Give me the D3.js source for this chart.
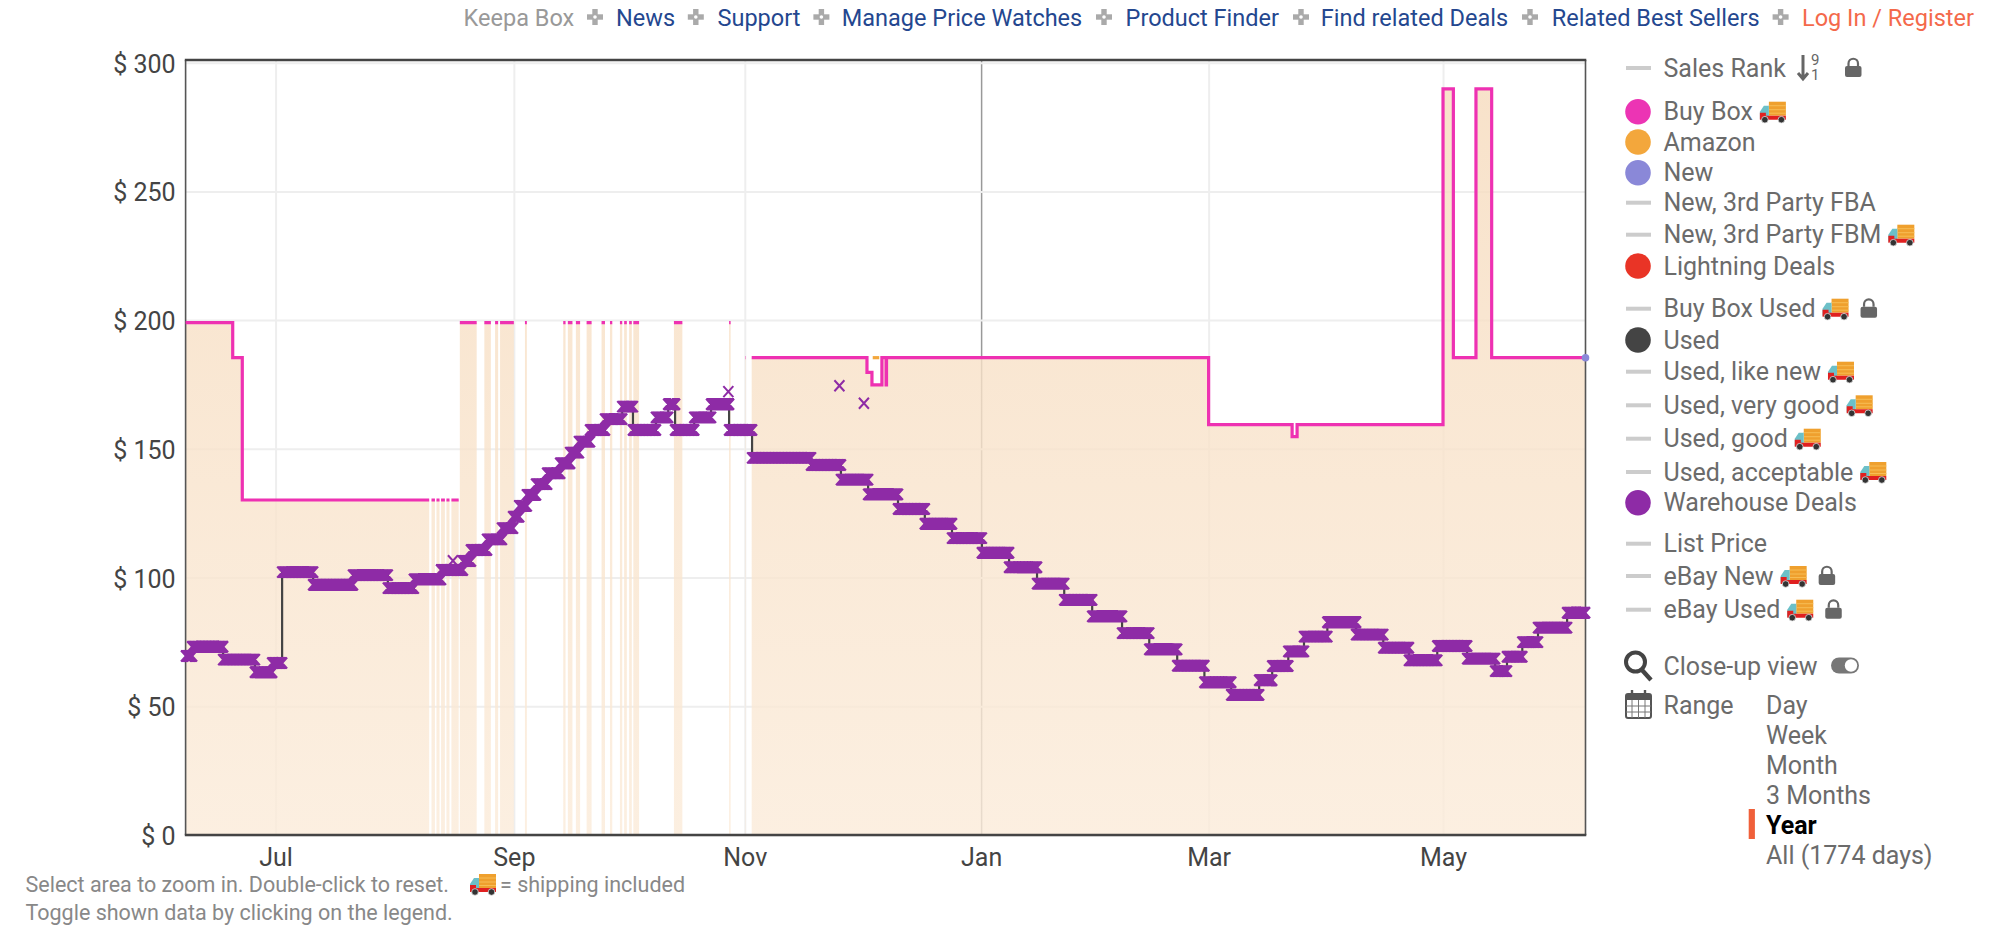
<!DOCTYPE html>
<html><head><meta charset="utf-8">
<style>html,body{margin:0;padding:0;background:#fff}svg{display:block}text{font-family:Roboto,sans-serif}</style>
<script src="https://cdn.jsdelivr.net/npm/d3@7/dist/d3.min.js"></script>
</head><body><svg id="c" width="1999" height="925"></svg>
<script>
// ---- data (x = days since chart start, y = US dollars) ----
const priceTicks=[0,50,100,150,200,250,300];
const monthTickDays=[23.5,85.7,146.0,207.7,267.1,328.3];
const monthTickLabels=["Jul","Sep","Nov","Jan","Mar","May"];
const yearBoundaryDay=207.7;
const buyBoxFrom=[0,12.3,14.8,64.2,65.5,66.7,68.1,69.4,71.6,78.0,80.8,82.1,88.6,98.6,99.8,101.9,104.7,108.6,110.8,113.4,114.5,115.8,116.9,127.5,141.9,146.1,147.8,177.9,179.2,181.8,182.9,183.0,267.1,288.9,290.2,328.3,331.0,336.9,341.0];
const buyBoxTo=[12.3,14.8,63.6,65.1,66.3,67.7,68.9,71.3,76.0,79.7,81.6,85.7,89.1,99.2,101.0,103.0,106.0,109.5,111.4,114.0,115.2,116.5,118.4,129.7,142.3,146.2,177.9,179.2,181.8,182.9,183.0,267.1,288.9,290.2,328.3,331.0,336.9,341.0,365.5];
const buyBoxPrice=[199,185.4,130.1,130.1,130.1,130.1,130.1,130.1,199,199,199,199,199,199,199,199,199,199,199,199,199,199,199,199,199,185.4,185.4,179.7,174.8,185.4,174.8,185.4,159.4,154.7,159.4,289.8,185.4,289.8,185.4];
const amazonFrom=[179.4],amazonTo=[181.1],amazonPrice=[185.4];
const newDay=[365.5],newPrice=[185.4];
const warehouseDays=[0.1,1.7,9.8,18.1,22.6,25.2,33.3,43.7,52.8,59.6,66.7,72.4,74.5,78.7,82.6,85.5,87.1,89.1,91.5,94.4,97.8,100.4,102.7,105.6,109.5,114.0,116.8,122.8,126.0,127.8,132.8,137.2,141.9,147.9,163.3,171.1,178.2,186.0,193.0,200.1,207.9,215.0,222.3,229.4,236.7,244.5,251.6,258.9,266.0,273.0,280.3,283.7,287.9,292.0,298.1,305.6,312.7,319.4,326.8,334.6,341.9,345.0,349.0,353.1,360.7];
const warehousePrices=[69.5,73.1,68.1,63.2,66.8,102.1,97.2,100.9,95.9,99.3,102.9,106.4,110.7,114.8,119.2,123.6,127.8,132.1,136.3,140.5,144.4,148.5,152.8,157.3,161.5,166.4,157.3,162.2,167.3,157.3,162.2,167.3,157.3,146.5,143.7,138.0,132.3,126.6,120.9,115.3,109.6,104.0,97.6,91.3,84.9,78.4,72.1,65.7,59.3,54.4,60.1,65.6,71.3,77.0,82.6,77.8,72.7,67.8,73.4,68.5,63.6,69.2,74.9,80.5,86.3];
const warehouseLastDay=365.4;
const warehouseSingleDays=[69.8,141.7,170.7,177.1];
const warehouseSinglePrices=[106.5,172.2,174.5,167.7];
const headerLabels=["Keepa Box","News","Support","Manage Price Watches","Product Finder","Find related Deals","Related Best Sellers","Log In / Register"];
const legendLabels=["Sales Rank","Buy Box","Amazon","New","New, 3rd Party FBA","New, 3rd Party FBM","Lightning Deals","Buy Box Used","Used","Used, like new","Used, very good","Used, good","Used, acceptable","Warehouse Deals","List Price","eBay New","eBay Used"];
const legendColors=[null,"#ec34b4","#f3a73c","#8a88d8",null,null,"#e93426",null,"#444444",null,null,null,null,"#8e2ba6",null,null,null];
const legendTruck=[0,1,0,0,0,1,0,1,0,1,1,1,1,0,0,1,1];
const legendLock=[1,0,0,0,0,0,0,1,0,0,0,0,0,0,0,1,1];
const rangeLabels=["Day","Week","Month","3 Months","Year","All (1774 days)"];
// ---- layout ----
const L=185.6,R=1585.5,T=60,B=835;
const headerX=[463.6,616,717.5,841.8,1125.6,1320.8,1551.7,1802];
const plusX=[595,695.8,821.4,1104,1301,1530,1780.6];
const legendY=[68,111.7,142,172.7,202.7,234.7,266,308.7,340,371.7,405.3,438.7,472,502.7,543.7,576,609.7];
const rangeY=[705,735,765,795,825.3,855];

const svg=d3.select("#c");
const x=d3.scaleLinear().domain([0,365.5]).range([L,R]);
const y=d3.scaleLinear().domain([0,300]).range([834.9,62.7]);
const FS=25;

const defs=svg.append("defs");
const grad=defs.append("linearGradient").attr("id","fillG").attr("gradientUnits","userSpaceOnUse").attr("x1",0).attr("x2",0).attr("y1",90).attr("y2",835);
grad.append("stop").attr("offset",0).attr("stop-color","#f6dbbd");
grad.append("stop").attr("offset",1).attr("stop-color","#fbebd9");

// grid
const gridX=svg.append("g").attr("transform",`translate(0,${B})`)
  .call(d3.axisBottom(x).tickValues(monthTickDays).tickSize(-(B-T)).tickFormat((d,i)=>monthTickLabels[i]).tickPadding(10));
const gridY=svg.append("g").attr("transform",`translate(${L},0)`)
  .call(d3.axisLeft(y).tickValues(priceTicks).tickSize(-(R-L)).tickFormat(d=>"$ "+d).tickPadding(10));
[gridX,gridY].forEach(g=>{
  g.select(".domain").remove();
  g.selectAll("line").attr("stroke","#eeeeee").attr("stroke-width",2);
  g.selectAll("text").attr("fill","#444").style("font-size",FS+"px");
});
gridX.selectAll("text").attr("dy",null).attr("y",null).attr("dominant-baseline","alphabetic").attr("transform","translate(0,31)");
gridX.selectAll("line").filter(d=>d===yearBoundaryDay).attr("stroke","#999").attr("stroke-width",1.5);
gridY.selectAll("text").attr("dy",null).attr("dominant-baseline","central").attr("transform","translate(0,1)");

// area fill and line pieces for the buy box (translucent, over the grid)
const pts=[];
buyBoxFrom.forEach((f,i)=>{
  if(i>0&&buyBoxTo[i-1]!==f)pts.push(null);
  pts.push([f,buyBoxPrice[i]],[buyBoxTo[i],buyBoxPrice[i]]);
});
svg.append("path").attr("fill","url(#fillG)").attr("fill-opacity",0.8)
  .attr("d",d3.area().defined(d=>d).x(d=>x(d[0])).y0(y(0)).y1(d=>y(d[1]))(pts));

// frame
svg.append("path").attr("fill","none").attr("stroke","#555").attr("stroke-width",1.6)
  .attr("d",`M${L},${T}V${B}M${R},${T}V${B}`);
svg.append("path").attr("fill","none").attr("stroke","#444").attr("stroke-width",2.4)
  .attr("d",`M${L-.8},${T}H${R+.8}M${L-.8},${B}H${R+.8}`);

// warehouse step line
const wEnds=warehouseDays.map((d,i)=>i<warehouseDays.length-1?warehouseDays[i+1]:warehouseLastDay);
const stepPts=warehouseDays.map((d,i)=>[d,warehousePrices[i]]).concat([[warehouseLastDay,warehousePrices[warehousePrices.length-1]]]);
svg.append("path").attr("fill","none").attr("stroke","#444").attr("stroke-width",2.2)
  .attr("d",d3.line().x(d=>x(d[0])).y(d=>y(d[1])).curve(d3.curveStepAfter)(stepPts));

// buy box & amazon lines
svg.append("path").attr("fill","none").attr("stroke","#ee31b2").attr("stroke-width",3.2).attr("stroke-linejoin","miter")
  .attr("d",d3.line().defined(d=>d).x(d=>x(d[0])).y(d=>y(d[1]))(pts));
svg.append("line").attr("x1",x(amazonFrom[0])).attr("x2",x(amazonTo[0])).attr("y1",y(amazonPrice[0])).attr("y2",y(amazonPrice[0])).attr("stroke","#f3a73c").attr("stroke-width",3.2);

// warehouse crosses
const HX=5,HY=5.5;
const xMark=(px,py)=>`M${px-HX},${py-HY}L${px+HX},${py+HY}M${px-HX},${py+HY}L${px+HX},${py-HY}`;
let dCross="";
warehouseDays.forEach((d,i)=>{
  const py=y(warehousePrices[i]);
  for(const t of d3.range(d,wEnds[i],0.2))dCross+=xMark(x(t),py);
  dCross+=xMark(x(wEnds[i]),py);
});
svg.append("path").attr("fill","none").attr("stroke","#8e2ba6").attr("stroke-width",2).attr("d",dCross);
svg.append("path").attr("fill","none").attr("stroke","#8e2ba6").attr("stroke-width",2)
  .attr("d",warehouseSingleDays.map((d,i)=>xMark(x(d),y(warehouseSinglePrices[i]))).join(""));

// new point
svg.append("circle").attr("cx",x(newDay[0])).attr("cy",y(newPrice[0])).attr("r",3.8).attr("fill","#8a88d8");

// header
const headerColors=["#999","#24478f","#24478f","#24478f","#24478f","#24478f","#24478f","#f4694b"];
svg.append("g").selectAll("text").data(headerLabels).join("text")
  .attr("x",(d,i)=>headerX[i]).attr("y",25.5).attr("fill",(d,i)=>headerColors[i]).style("font-size","23.5px").text(d=>d);
plusX.forEach(px=>{
  const g=svg.append("g").attr("transform",`translate(${px},17)`);
  g.append("rect").attr("x",-8).attr("y",-2.7).attr("width",16).attr("height",5.4).attr("fill","#aaa");
  g.append("rect").attr("x",-2.7).attr("y",-8).attr("width",5.4).attr("height",16).attr("fill","#aaa");
  g.append("circle").attr("r",1.8).attr("fill","#fff");
});

// icons
function truck(g,tx,cy){
  const t=g.append("g").attr("transform",`translate(${tx},${cy-11})`);
  t.append("rect").attr("x",9).attr("y",1).attr("width",17).attr("height",14).attr("fill","#efa02e");
  t.append("path").attr("d","M9,5H26M9,9H26M9,12.5H26").attr("stroke","#f7bd55").attr("stroke-width",1);
  t.append("path").attr("d","M0,18V11L4,5H9V18Z").attr("fill","#6cc0c8");
  t.append("path").attr("d","M0,18V12H6V15H26V19H0Z").attr("fill","#e02020");
  t.append("circle").attr("cx",5).attr("cy",19).attr("r",3.3).attr("fill","#333").attr("stroke","#ddd").attr("stroke-width",.8);
  t.append("circle").attr("cx",21.5).attr("cy",19).attr("r",3.3).attr("fill","#333").attr("stroke","#ddd").attr("stroke-width",.8);
}
function lock(g,lx,cy){
  const t=g.append("g").attr("transform",`translate(${lx},${cy})`);
  t.append("rect").attr("x",0).attr("y",-2).attr("width",16.5).attr("height",11).attr("rx",2).attr("fill","#666");
  t.append("path").attr("d","M3.5,-2V-4.5A4.7,4.7 0 0 1 13,-4.5V-2").attr("fill","none").attr("stroke","#666").attr("stroke-width",2.2);
}

// legend
const lg=svg.append("g");
legendLabels.forEach((name,i)=>{
  const cy=legendY[i];
  if(legendColors[i])lg.append("circle").attr("cx",1638).attr("cy",cy).attr("r",12.8).attr("fill",legendColors[i]);
  else lg.append("line").attr("x1",1626).attr("x2",1651).attr("y1",cy).attr("y2",cy).attr("stroke","#ccc").attr("stroke-width",4);
  const t=lg.append("text").attr("x",1663.5).attr("y",cy+8.5).attr("fill","#6b6b6b").style("font-size",FS+"px").text(name);
  let ex=1663.5+t.node().getComputedTextLength();
  if(i===0){
    lg.append("path").attr("d",`M1803,55V79M1798,73L1803,79L1808,73`).attr("fill","none").attr("stroke","#666").attr("stroke-width",3);
    lg.append("text").attr("x",1811).attr("y",65).attr("fill","#666").style("font-size","15px").text("9");
    lg.append("text").attr("x",1811).attr("y",80).attr("fill","#666").style("font-size","15px").text("1");
    lock(lg,1845,cy);
    return;
  }
  if(legendTruck[i]){truck(lg,ex+7,cy);ex+=33;}
  if(legendLock[i])lock(lg,ex+12,cy);
});

// close-up & range
const mg=lg.append("g");
mg.append("circle").attr("cx",1635.5).attr("cy",662).attr("r",9.5).attr("fill","none").attr("stroke","#444").attr("stroke-width",4);
mg.append("line").attr("x1",1642).attr("y1",670).attr("x2",1651).attr("y2",680).attr("stroke","#444").attr("stroke-width",4.4);
lg.append("text").attr("x",1663.5).attr("y",675).attr("fill","#6b6b6b").style("font-size",FS+"px").text("Close-up view");
lg.append("rect").attr("x",1831).attr("y",657.5).attr("width",28).attr("height",16).attr("rx",8).attr("fill","#777");
lg.append("circle").attr("cx",1851).attr("cy",665.5).attr("r",6.2).attr("fill","#fff");
const cal=lg.append("g").attr("transform","translate(1625,690)");
cal.append("rect").attr("x",1).attr("y",4).attr("width",25).attr("height",24).attr("rx",2).attr("fill","#fff").attr("stroke","#555").attr("stroke-width",2);
cal.append("rect").attr("x",1).attr("y",4).attr("width",25).attr("height",6).attr("fill","#555");
cal.append("path").attr("d","M7,0V8M20,0V8").attr("stroke","#555").attr("stroke-width",2.4);
cal.append("path").attr("d","M7,10V28M13.5,10V28M20,10V28M1,16H26M1,22H26").attr("stroke","#777").attr("stroke-width",1);
lg.append("text").attr("x",1663.5).attr("y",713.5).attr("fill","#6b6b6b").style("font-size",FS+"px").text("Range");
rangeLabels.forEach((r,i)=>{
  lg.append("text").attr("x",1766).attr("y",rangeY[i]+8.5).attr("fill",r==="Year"?"#000":"#6b6b6b")
    .style("font-weight",r==="Year"?700:400).style("font-size",FS+"px").text(r);
});
lg.append("rect").attr("x",1748.7).attr("y",809).attr("width",6.2).attr("height",30).attr("fill","#f0603a");

// footer
const ft=svg.append("g").attr("fill","#888").style("font-size","21.5px");
ft.append("text").attr("x",25.5).attr("y",892).text("Select area to zoom in. Double-click to reset.");
truck(ft,470,884);
ft.append("text").attr("x",500).attr("y",892).text("= shipping included");
ft.append("text").attr("x",25.5).attr("y",920).text("Toggle shown data by clicking on the legend.");
</script></body></html>
